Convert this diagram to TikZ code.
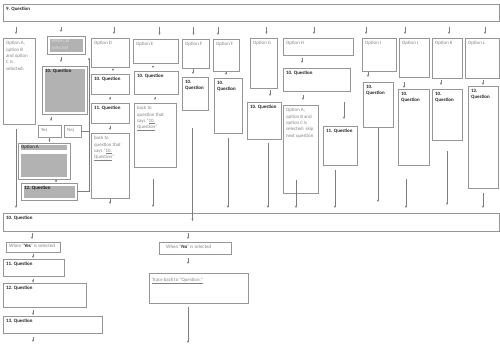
\documentclass[tikz,border=0pt]{standalone}
\usepackage{fontspec}
\setmainfont{Carlito}
\usetikzlibrary{arrows.meta}
\definecolor{BG}{RGB}{150,150,150}
\definecolor{AG}{RGB}{125,125,125}
\definecolor{TG}{RGB}{130,130,130}
\definecolor{DT}{RGB}{35,35,35}
\definecolor{FG}{RGB}{178,178,178}
\definecolor{LT}{RGB}{225,225,225}
\newcommand{\unitpx}{0.05cm}
\newcommand{\lblfont}{\fontsize{7}{9.2}\selectfont}

\begin{document}
\begin{tikzpicture}[x=\unitpx, y=-\unitpx,
  box/.style={draw=BG, line width=1pt, fill=white, anchor=north west,
              inner sep=0pt, outer sep=0pt},
  wh/.style 2 args={minimum width=#1*\unitpx, minimum height=#2*\unitpx},
  lbl/.style={anchor=north west, inner sep=0pt, xshift=3*\unitpx, yshift=-3*\unitpx,
              align=left, font=\lblfont, text=TG},
  olab/.style={label={[lbl]north west:{#1}}},
  qlab/.style={label={[lbl, text=DT, font=\lblfont\bfseries]north west:{#1}}},
  inset/.style={path picture={\fill[FG]
      ([shift={(2.5*\unitpx,-2.5*\unitpx)}]path picture bounding box.north west) rectangle
      ([shift={(-2.5*\unitpx,2.5*\unitpx)}]path picture bounding box.south east);}},
  link/.style={draw=AG, line width=0.55pt},
  arr/.style={link, -{Stealth[length=3.5pt, width=3pt]}},
  gap/.style 2 args={shorten <=#1*\unitpx, shorten >=#2*\unitpx}
]
\fill[white] (0,0) rectangle (500,344);

% Question 9 and the options below it
\node[box, wh={496}{17}, qlab={9. Question}] (q9) at (3,4) {};

\node[box, wh={32}{86}, olab={Option A,\\option B\\and option\\C is\\selected:}] (selABC) at (3,38) {};
\node[box, wh={38}{18}, inset,
      label={[lbl, text=LT, xshift=1.5*\unitpx]north west:{When all\\selected}}] (whenAll) at (47,36) {};
\node[box, wh={45}{48}, inset, qlab={10. Question}] (q10g) at (42,66) {};
\node[box, wh={23}{12}, olab={Yes}] (yes) at (38,125) {};
\node[box, wh={17}{12}, olab={Nej}] (nej) at (64,125) {};
\node[box, wh={52}{36}, path picture={
        \fill[FG] ([shift={(3*\unitpx,-1.5*\unitpx)}]path picture bounding box.north west) rectangle
                  ([shift={(-3*\unitpx,-7*\unitpx)}]path picture bounding box.north east);
        \fill[FG] ([shift={(3*\unitpx,-11*\unitpx)}]path picture bounding box.north west) rectangle
                  ([shift={(-3*\unitpx,2*\unitpx)}]path picture bounding box.south east);},
      label={[lbl, text=DT, yshift=1.5*\unitpx]north west:{Option A}}] (optAsel) at (18,143) {};
\node[box, wh={56}{17}, inset, qlab={12. Question}] (q12g) at (21,183) {};

% Option D
\node[box, wh={38}{29}, olab={Option D}] (optD) at (91,38) {};
\node[box, wh={38}{20}, qlab={10. Question}] (q10d) at (91,74) {};
\node[box, wh={38}{20}, qlab={11. Question}] (q11d) at (91,103) {};
\node[box, wh={38}{65}, olab={back to\\question that\\says “\underline{10.}\\\underline{Question}”}] (backD) at (91,133) {};
% Option E
\node[box, wh={45}{24}, olab={Option E}] (optE) at (133,39) {};
\node[box, wh={44}{23}, qlab={10. Question}] (q10e) at (134,71) {};
\node[box, wh={42}{64}, olab={back to\\question that\\says “\underline{10.}\\\underline{Question}”}] (backE) at (134,103) {};
% Option F (twice)
\node[box, wh={27}{29}, olab={Option F}] (optF1) at (182,39) {};
\node[box, wh={26}{33}, qlab={10.\\Question}] (q10f1) at (182,77) {};
\node[box, wh={26}{32}, olab={Option F}] (optF2) at (213,39) {};
\node[box, wh={28}{55}, qlab={10.\\Question}] (q10f2) at (214,78) {};
% Option G
\node[box, wh={27}{50}, olab={Option G}] (optG) at (250,38) {};
\node[box, wh={34}{37}, qlab={10. Question}] (q10gg) at (247,102) {};
% Option H
\node[box, wh={70}{17}, olab={Option H}] (optH) at (283,38) {};
\node[box, wh={67}{23}, qlab={10. Question}] (q10h) at (283,68) {};
\node[box, wh={35}{88}, olab={Option A,\\option B and\\option C is\\selected: skip\\next question}] (skipH) at (283,105) {};
\node[box, wh={34}{39}, qlab={11. Question}] (q11h) at (323,126) {};
% Options I to L
\node[box, wh={34}{33}, olab={Option I}] (optI) at (362,38) {};
\node[box, wh={30}{45}, qlab={10.\\Question}] (q10i) at (363,82) {};
\node[box, wh={30}{39}, olab={Option J}] (optJ) at (399,38) {};
\node[box, wh={31}{76}, qlab={10.\\Question}] (q10j) at (398,89) {};
\node[box, wh={30}{40}, olab={Option K}] (optK) at (432,38) {};
\node[box, wh={30}{51}, qlab={10.\\Question}] (q10k) at (432,89) {};
\node[box, wh={34}{40}, olab={Option L}] (optL) at (465,38) {};
\node[box, wh={30}{102}, qlab={12.\\Question}] (q12l) at (468,86) {};

% Question 10 and what follows
\node[box, wh={496}{18}, qlab={10. Question}] (q10) at (3,213) {};
\node[box, wh={54}{10}, label={[lbl, yshift=1.5*\unitpx]north west:{When “\textcolor{DT}{\textbf{Yes}}” is selected}}] (whenYes) at (6,242) {};
\node[box, wh={61}{17}, qlab={11. Question}] (q11) at (3,259) {};
\node[box, wh={83}{24}, qlab={12. Question}] (q12) at (3,283) {};
\node[box, wh={99}{17}, qlab={13. Question}] (q13) at (3,316) {};
\node[box, wh={72}{12}, label={[lbl, xshift=4*\unitpx]north west:{When “\textcolor{DT}{\textbf{No}}” is selected}}] (whenNo) at (159,242) {};
\node[box, wh={99}{30}, label={[lbl, yshift=-2*\unitpx]north west:{\underline{Trace back to “Question.”}}}] (trace) at (149,273) {};

\coordinate (railtop) at ([xshift=-2*\unitpx, yshift=-5*\unitpx]optD.west);
\coordinate (q13out) at (whenYes.south |- 0,342);
\coordinate (traceout) at ([xshift=-10.5*\unitpx]trace.south |- 0,343);

% fan out from question 9
\foreach \n/\dx in {selABC/-3, whenAll/-5, optD/4, optE/4, optF1/-2, optF2/-8,
                    optG/3, optH/-4, optI/-13, optJ/-9, optK/2, optL/3}
  \draw[arr, gap={6}{4}] ([xshift=\dx*\unitpx]\n.north |- q9.south) -- ([xshift=\dx*\unitpx]\n.north);

% all selected branch
\draw[arr, gap={3}{4}] ([xshift=-5*\unitpx]whenAll.south) -- ([xshift=-5*\unitpx]whenAll.south |- q10g.north);
\draw[arr, gap={3}{4}] ([xshift=1.5*\unitpx]yes.north |- q10g.south) -- ([xshift=1.5*\unitpx]yes.north);
\draw[arr, gap={1}{1}] (yes.south) -- (yes.south |- optAsel.north);
\draw[arr, gap={1}{0.5}] ([xshift=7*\unitpx]q12g.north |- optAsel.south) -- ([xshift=7*\unitpx]q12g.north);
\draw[arr] (q12g.east) -| (railtop);
\draw[link] (nej.east) -- (nej.east -| railtop);
\draw[arr, gap={5}{5}] ([xshift=-3*\unitpx]selABC.south) -- ([xshift=-3*\unitpx]selABC.south |- q10.north);

% columns down to question 10
\draw[arr, gap={3}{3}] ([xshift=3*\unitpx]optD.south) -- ([xshift=3*\unitpx]q10d.north);
\draw[arr, gap={3}{3}] (q10d.south) -- (q11d.north);
\draw[arr, gap={3}{3}] (q11d.south) -- (backD.north);
\draw[arr, gap={1}{9}] (backD.south) -- (backD.south |- q10.north);
\draw[arr, gap={3}{3}] ([xshift=-2.5*\unitpx]optE.south) -- ([xshift=-2.5*\unitpx]optE.south |- q10e.north);
\draw[arr, gap={3}{3}] ([xshift=-1*\unitpx]q10e.south) -- ([xshift=-1*\unitpx]q10e.south |- backE.north);
\draw[arr, gap={12}{6}] ([xshift=-2*\unitpx]backE.south) -- ([xshift=-2*\unitpx]backE.south |- q10.north);
\draw[arr, gap={1}{3}] ([xshift=-2.5*\unitpx]optF1.south) -- ([xshift=-2.5*\unitpx]optF1.south |- q10f1.north);
\draw[arr, gap={18}{-8}] ([xshift=-3*\unitpx]optF1.south |- q10f1.south) -- ([xshift=-3*\unitpx]optF1.south |- q10.north);
\draw[arr, gap={1}{3}] (optF2.south) -- (optF2.south |- q10f2.north);
\draw[arr, gap={5}{5}] (q10f2.south) -- (q10f2.south |- q10.north);
\draw[arr, gap={2}{6}] ([xshift=6*\unitpx]q10gg.north |- optG.south) -- ([xshift=6*\unitpx]q10gg.north);
\draw[arr, gap={4}{5}] ([xshift=4*\unitpx]q10gg.south) -- ([xshift=4*\unitpx]q10gg.south |- q10.north);
\draw[arr, gap={3}{5}] ([xshift=-14.5*\unitpx]q10h.north |- optH.south) -- ([xshift=-14.5*\unitpx]q10h.north);
\draw[arr, gap={4}{5}] ([xshift=2.5*\unitpx]skipH.north |- q10h.south) -- ([xshift=2.5*\unitpx]skipH.north);
\draw[arr, gap={-13}{5}] ([xshift=-4.5*\unitpx]skipH.south) -- ([xshift=-4.5*\unitpx]skipH.south |- q10.north);
\draw[arr, gap={11}{7}] ([xshift=4*\unitpx]q11h.north |- q10h.south) -- ([xshift=4*\unitpx]q11h.north);
\draw[arr, gap={5}{5}] ([xshift=-5*\unitpx]q11h.south) -- ([xshift=-5*\unitpx]q11h.south |- q10.north);
\draw[arr, gap={1}{5}] ([xshift=-10*\unitpx]q10i.north |- optI.south) -- ([xshift=-10*\unitpx]q10i.north);
\draw[arr, gap={1}{11}] (q10i.south) -- (q10i.south |- q10.north);
\draw[arr, gap={5}{1}] ([xshift=-9.5*\unitpx]q10j.north |- optJ.south) -- ([xshift=-9.5*\unitpx]q10j.north);
\draw[arr, gap={14}{5}] ([xshift=-7.5*\unitpx]q10j.south) -- ([xshift=-7.5*\unitpx]q10j.south |- q10.north);
\draw[arr, gap={2}{4}] ([xshift=-6*\unitpx]q10k.north |- optK.south) -- ([xshift=-6*\unitpx]q10k.north);
\draw[arr, gap={11}{8}] (q10k.south) -- (q10k.south |- q10.north);
\draw[arr, gap={2}{1}] (q12l.north |- optL.south) -- (q12l.north);
\draw[arr, gap={5}{5}] (q12l.south) -- (q12l.south |- q10.north);

% Yes / No after question 10
\draw[arr, gap={2}{3}] ([xshift=-1*\unitpx]whenYes.north |- q10.south) -- ([xshift=-1*\unitpx]whenYes.north);
\draw[arr, gap={2}{1}] (whenYes.south) -- (whenYes.south |- q11.north);
\draw[arr, gap={3}{0.5}] (whenYes.south |- q11.south) -- (whenYes.south |- q12.north);
\draw[arr, gap={3}{1}] (whenYes.south |- q12.south) -- (whenYes.south |- q13.north);
\draw[arr, gap={4}{0}] (whenYes.south |- q13.south) -- (q13out);
\draw[arr, gap={2}{3}] ([xshift=-7*\unitpx]whenNo.north |- q10.south) -- ([xshift=-7*\unitpx]whenNo.north);
\draw[arr, gap={4}{9}] ([xshift=-7*\unitpx]whenNo.south) -- ([xshift=-7*\unitpx]whenNo.south |- trace.north);
\draw[arr, gap={4}{0}] ([xshift=-10.5*\unitpx]trace.south) -- (traceout);
\end{tikzpicture}
\end{document}
